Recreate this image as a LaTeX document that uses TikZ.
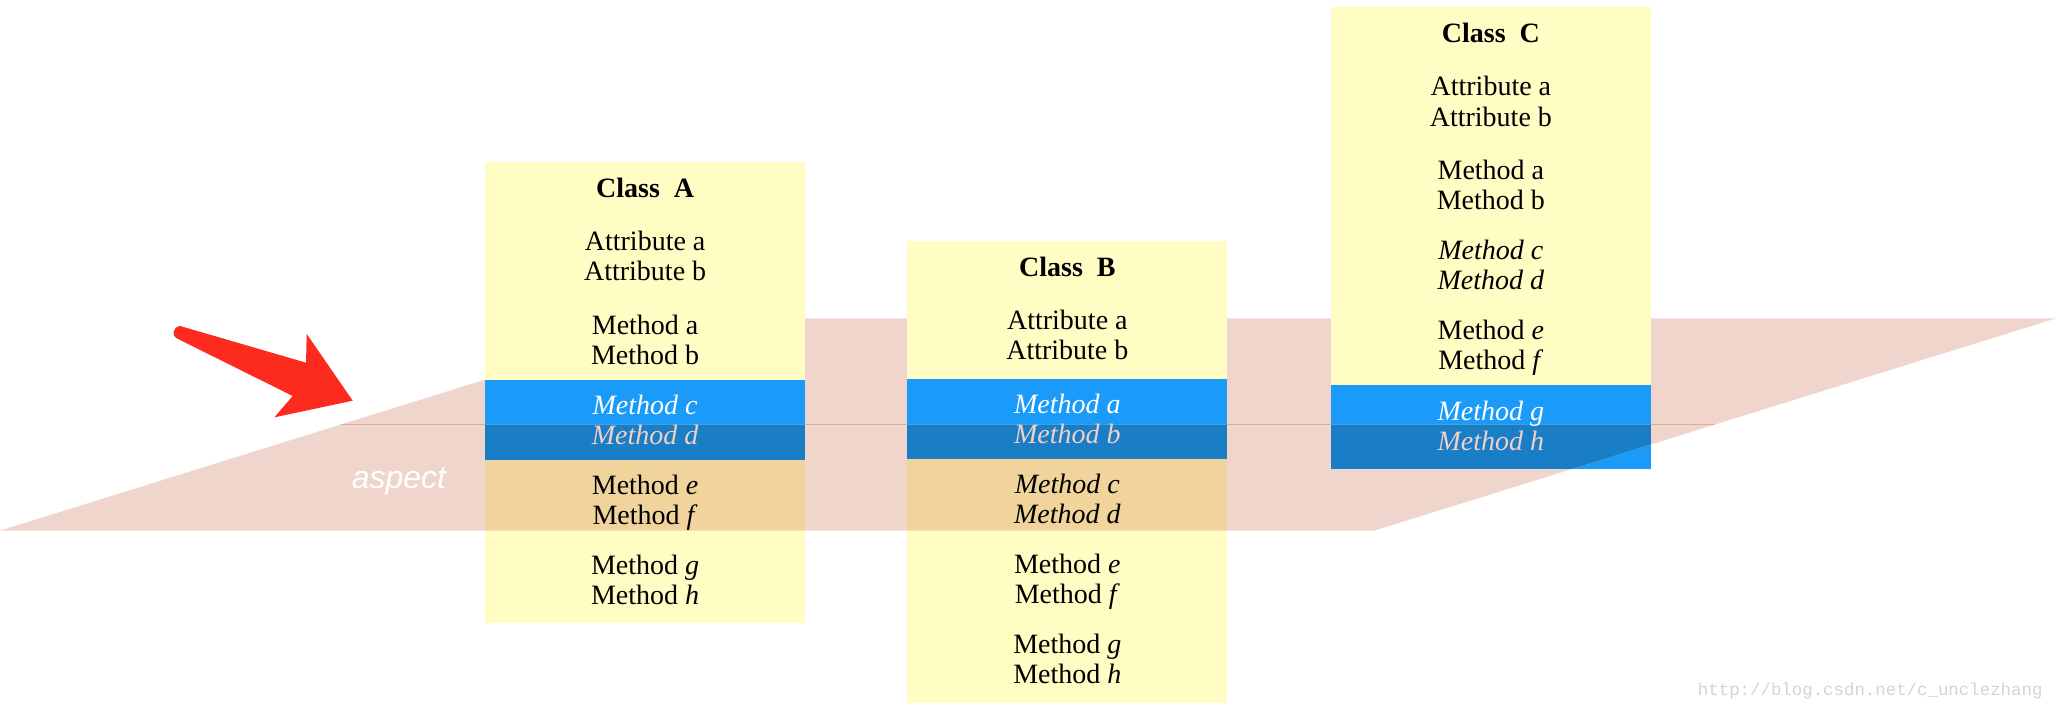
\documentclass[tikz,border=0pt]{standalone}
\usepackage{fontspec}
\setmainfont{Liberation Serif}
\newfontfamily\aspfont{Liberation Sans}
\newfontfamily\wmfont{Liberation Mono}
\definecolor{boxyellow}{HTML}{FFFDC3}
\definecolor{planecol}{HTML}{F0D5CC}
\definecolor{planeline}{HTML}{E3A999}
\definecolor{overyellow}{HTML}{F0D49B}
\definecolor{lightblue}{HTML}{1A9BFA}
\definecolor{darkblue}{HTML}{1A7EC7}
\definecolor{pinktext}{HTML}{F2CFC8}
\definecolor{arrowred}{HTML}{FC2B1E}
\definecolor{wmgray}{HTML}{D4D4D4}
\begin{document}
\begin{tikzpicture}[x=0.65562pt,y=-0.65562pt,
  txt/.style={anchor=base,inner sep=0pt,font=\fontsize{14}{16}\selectfont},
  ttl/.style={txt,font=\fontsize{14}{16}\selectfont\bfseries},
  wtxt/.style={txt,text=white},
  ptxt/.style={txt,text=pinktext}]
\useasboundingbox (0,0) rectangle (1568,541.5);
% plane
\fill[planecol] (0,404.7) -- (1048,404.7) -- (1568,242.8) -- (520,242.8) -- cycle;
\draw[planeline,line width=0.6pt] (260,323.75) -- (1308,323.75);
% class boxes
\def\AT{123.5}\def\BT{183.8}\def\CT{5.6}
\fill[boxyellow] (370,\AT) rectangle (614,\AT+352);
\fill[boxyellow] (692,\BT) rectangle (936,\BT+352);
\fill[boxyellow] (1015,\CT) rectangle (1259,\CT+352);
\fill[lightblue] (370,\AT+166.3) rectangle (614,\AT+227.1);
\fill[lightblue] (692,\BT+105.2) rectangle (936,\BT+166.2);
\fill[lightblue] (1015,\CT+288) rectangle (1259,\CT+352);
% front half of the plane over the boxes
\begin{scope}
  \clip (260,323.75) -- (1308,323.75) -- (1048,404.7) -- (0,404.7) -- cycle;
  \fill[overyellow] (370,\AT) rectangle (614,\AT+352);
  \fill[overyellow] (692,\BT) rectangle (936,\BT+352);
  \fill[overyellow] (1015,\CT) rectangle (1259,\CT+352);
  \fill[darkblue] (370,\AT+166.3) rectangle (614,\AT+227.1);
  \fill[darkblue] (692,\BT+105.2) rectangle (936,\BT+166.2);
  \fill[darkblue] (1015,\CT+288) rectangle (1259,\CT+352);
\end{scope}
% red arrow
\fill[arrowred] (137.3,248.6) -- (233.4,276.6) -- (233.9,254.7) -- (269,305.6)
  -- (209.2,318.3) -- (223.2,302) -- (134.7,258)
  .. controls (131.2,256.5) and (131.2,249.5) .. (137.3,248.6) -- cycle;
% aspect label
\node[anchor=base west,inner sep=0pt,text=white,font=\aspfont\itshape\fontsize{16}{18}\selectfont] (asp) at (268,372.4) {aspect};
% Class A
\node[ttl] (a0) at (492,\AT+27.2) {Class\ \ A};
\node[txt] (a1) at (492,\AT+67.5) {Attribute a};
\node[txt] (a2) at (492,\AT+90.5) {Attribute b};
\node[txt] (a3) at (492,\AT+131.5) {Method a};
\node[txt] (a4) at (492,\AT+154.5) {Method b};
\node[wtxt] (a5) at (492,\AT+192.5) {\itshape Method c};
\node[ptxt] (a6) at (492,\AT+215.5) {\itshape Method d};
\node[txt] (a7) at (492,\AT+253.5) {Method \textit{e}};
\node[txt] (a8) at (492,\AT+276.5) {Method \textit{f}};
\node[txt] (a9) at (492,\AT+314.8) {Method \textit{g}};
\node[txt] (a10) at (492,\AT+337.8) {Method \textit{h}};
% Class B
\node[ttl] (b0) at (814,\BT+27.2) {Class\ \ B};
\node[txt] (b1) at (814,\BT+67.5) {Attribute a};
\node[txt] (b2) at (814,\BT+90.5) {Attribute b};
\node[wtxt] (b3) at (814,\BT+131.5) {\itshape Method a};
\node[ptxt] (b4) at (814,\BT+154.5) {\itshape Method b};
\node[txt] (b5) at (814,\BT+192.5) {\itshape Method c};
\node[txt] (b6) at (814,\BT+215.5) {\itshape Method d};
\node[txt] (b7) at (814,\BT+253.5) {Method \textit{e}};
\node[txt] (b8) at (814,\BT+276.5) {Method \textit{f}};
\node[txt] (b9) at (814,\BT+314.8) {Method \textit{g}};
\node[txt] (b10) at (814,\BT+337.8) {Method \textit{h}};
% Class C
\node[ttl] (c0) at (1137,\CT+27.2) {Class\ \ C};
\node[txt] (c1) at (1137,\CT+67.5) {Attribute a};
\node[txt] (c2) at (1137,\CT+90.5) {Attribute b};
\node[txt] (c3) at (1137,\CT+131.5) {Method a};
\node[txt] (c4) at (1137,\CT+154.5) {Method b};
\node[txt] (c5) at (1137,\CT+192.5) {\itshape Method c};
\node[txt] (c6) at (1137,\CT+215.5) {\itshape Method d};
\node[txt] (c7) at (1137,\CT+253.5) {Method \textit{e}};
\node[txt] (c8) at (1137,\CT+276.5) {Method \textit{f}};
\node[wtxt] (c9) at (1137,\CT+314.8) {\itshape Method g};
\node[ptxt] (c10) at (1137,\CT+337.8) {\itshape Method h};
% watermark
\node[anchor=base east,inner sep=0pt,text=wmgray,font=\wmfont\fontsize{8.7}{10}\selectfont] (wm) at (1558,530.8) {http://blog.csdn.net/c\_unclezhang};
\end{tikzpicture}
\end{document}
